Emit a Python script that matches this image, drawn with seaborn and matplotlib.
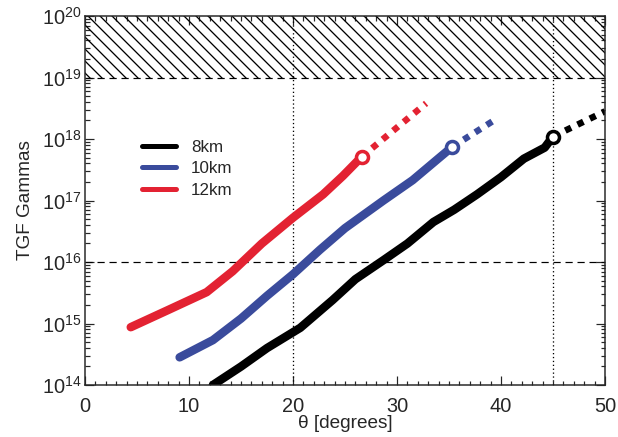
import numpy as np
import pandas as pd
import matplotlib
matplotlib.use("Agg")
import matplotlib.pyplot as plt
import seaborn as sns
from matplotlib.ticker import MultipleLocator, LogLocator, NullFormatter

# Data (theta in degrees, log10 of gamma count)
theta_8 = [12.3, 15.0, 17.5, 20.7, 23.8, 26.0, 28.7, 31.0, 33.5, 35.5, 37.7, 40.0, 42.2, 44.2, 45.0]
logn_8 = [14.0, 14.3, 14.6, 14.93, 15.38, 15.72, 16.03, 16.3, 16.65, 16.85, 17.1, 17.38, 17.68, 17.86, 18.04]
theta_8_ext = [45.0, 50.0]
logn_8_ext = [18.04, 18.45]

theta_10 = [9.1, 12.3, 15.0, 17.5, 20.0, 22.6, 25.0, 28.7, 31.5, 34.1, 35.3]
logn_10 = [14.45, 14.73, 15.08, 15.45, 15.8, 16.2, 16.55, 17.0, 17.33, 17.7, 17.87]
theta_10_ext = [35.3, 39.3]
logn_10_ext = [17.87, 18.3]

theta_12 = [4.4, 8.0, 11.7, 14.2, 17.0, 20.0, 22.9, 24.8, 26.6]
logn_12 = [14.94, 15.22, 15.51, 15.85, 16.3, 16.72, 17.1, 17.4, 17.71]
theta_12_ext = [26.6, 32.8]
logn_12_ext = [17.71, 18.58]

labels = ["8km", "10km", "12km"]
colors = ["#000000", "#3a4b9c", "#e32232"]

solid = pd.concat([
    pd.DataFrame({"theta": t, "gammas": 10.0 ** np.array(g), "alt": lab})
    for t, g, lab in [(theta_8, logn_8, "8km"), (theta_10, logn_10, "10km"), (theta_12, logn_12, "12km")]
])
ext = pd.concat([
    pd.DataFrame({"theta": t, "gammas": 10.0 ** np.array(g), "alt": lab})
    for t, g, lab in [(theta_8_ext, logn_8_ext, "8km"), (theta_10_ext, logn_10_ext, "10km"), (theta_12_ext, logn_12_ext, "12km")]
])

sns.set_style("ticks")
plt.rcParams["font.family"] = ["Liberation Sans", "DejaVu Sans"]
plt.rcParams["hatch.linewidth"] = 1.3

fig = plt.figure(figsize=(618 / 72, 437 / 72), dpi=72)
ax = fig.add_axes([85 / 618, 1 - 385 / 437, 520 / 618, 369 / 437])
pal = dict(zip(labels, colors))

# hatched excluded region
ax.axhspan(1e19, 1e20, facecolor="none", edgecolor="black", hatch="\\\\", linewidth=0)
ax.axhline(1e19, color="black", lw=1.2, ls=(0, (6, 4)))
ax.axhline(1e16, color="black", lw=1.2, ls=(0, (6, 4)))
ax.axvline(20, color="black", lw=1.3, ls=(0, (1, 2)))
ax.axvline(45, color="black", lw=1.3, ls=(0, (1, 2)))

sns.lineplot(data=ext, x="theta", y="gammas", hue="alt", palette=pal, sort=False,
             lw=6.5, ls=(0, (1, 1.1)), legend=False, ax=ax)
sns.lineplot(data=solid, x="theta", y="gammas", hue="alt", palette=pal, sort=False,
             lw=8.5, legend=False, ax=ax)
for lab in labels:
    end = solid[solid["alt"] == lab].iloc[-1]
    ax.plot(end["theta"], end["gammas"], "o", ms=12, mfc="white", mec=pal[lab], mew=3.5, zorder=5)

# legend
handles = [plt.Line2D([], [], color=c, lw=5) for c in colors]
ax.legend(handles, labels, loc="upper left", bbox_to_anchor=(0.08, 0.706), frameon=False,
          fontsize=17, handlelength=2.0, handletextpad=0.9, labelspacing=0.38)

ax.set_yscale("log")
ax.set_xlim(0, 50)
ax.set_ylim(1e14, 1e20)
ax.xaxis.set_major_locator(MultipleLocator(10))
ax.xaxis.set_minor_locator(MultipleLocator(1))
ax.yaxis.set_major_locator(LogLocator(base=10, numticks=10))
ax.yaxis.set_minor_locator(LogLocator(base=10, subs=np.arange(2, 10), numticks=20))
ax.yaxis.set_minor_formatter(NullFormatter())
ax.tick_params(which="both", direction="in", top=True, right=True, width=1.2, labelsize=20)
ax.tick_params(which="major", length=9)
ax.tick_params(which="minor", length=4.5)
ax.tick_params(axis="x", pad=12)
for s in ax.spines.values():
    s.set_linewidth(1.5)

ax.set_xlabel(r"θ [degrees]", fontsize=19, labelpad=-1)
ax.set_ylabel("TGF Gammas", fontsize=19, labelpad=8)

fig.savefig("out.png", dpi=72)
